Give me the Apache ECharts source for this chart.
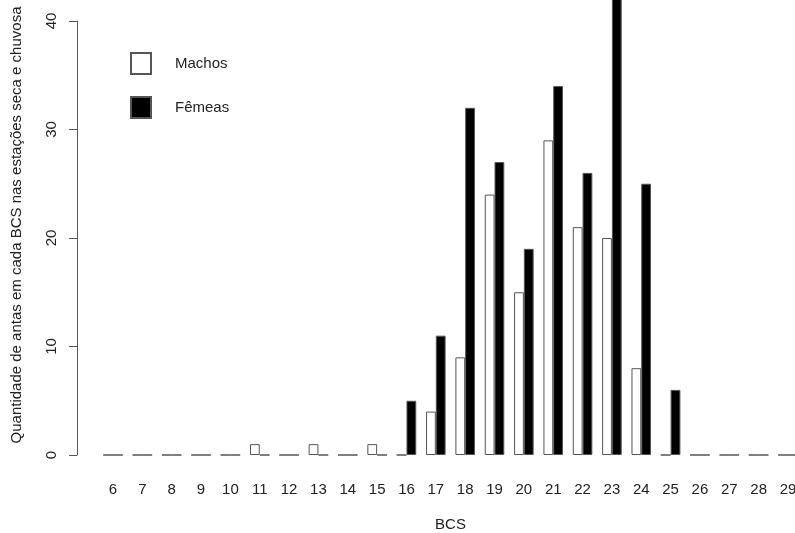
<!DOCTYPE html>
<html><head><meta charset="utf-8">
<script src="https://cdn.jsdelivr.net/npm/echarts@6/dist/echarts.min.js"></script>
<style>html,body{margin:0;padding:0;background:#fff}#c{width:795px;height:533px}</style>
</head><body><div id="c"></div>
<script>
const categories = ['6','7','8','9','10','11','12','13','14','15','16','17','18','19','20','21','22','23','24','25','26','27','28','29'];
const machos = [0,0,0,0,0,1,0,1,0,1,0,4,9,24,15,29,21,20,8,0,0,0,0,0];
const femeas = [0,0,0,0,0,0,0,0,0,0,5,11,32,27,19,34,26,43,25,6,0,0,0,0];
const yTicks = [0,10,20,30,40];
const font = 'Liberation Sans, Arial, sans-serif';
const chart = echarts.init(document.getElementById('c'), null, {renderer:'canvas'});
const bandW = (788-113)/23;
const barW = bandW/3;
const gridLeft = 113-bandW/2;
chart.setOption({
  animation:false,
  backgroundColor:'#fff',
  grid:{left:gridLeft, top:21, width:bandW*24, height:434, outerBoundsMode:'none', containLabel:false},
  legend:{
    orient:'vertical', left:130, top:52, padding:0, itemWidth:20, itemHeight:21, itemGap:21,
    icon:'rect',
    textStyle:{fontFamily:font, fontSize:15, color:'#222', padding:[0,0,0,19]},
    data:['Machos','Fêmeas']
  },
  xAxis:{
    type:'category', data:categories,
    axisLine:{show:false}, axisTick:{show:false},
    axisLabel:{fontFamily:font, fontSize:15, color:'#222', margin:27, interval:0},
    name:'BCS', nameLocation:'middle', nameGap:62,
    nameTextStyle:{fontFamily:font, fontSize:15, color:'#222'}
  },
  yAxis:{
    type:'value', min:0, max:40, interval:10, offset:gridLeft-77,
    axisLine:{show:true, lineStyle:{color:'#555', width:1}},
    axisTick:{show:true, length:8, lineStyle:{color:'#555'}},
    splitLine:{show:false},
    axisLabel:{fontFamily:font, fontSize:15, color:'#222', rotate:90, margin:18,
      formatter:v=> yTicks.includes(v)? String(v):''}
  },
  graphic:[{
    type:'text', x:17, y:225, rotation:Math.PI/2,
    style:{text:'Quantidade de antas em cada BCS nas estações seca e chuvosa',
      font:'15px '+font, fill:'#222', align:'center', verticalAlign:'middle'}
  }],
  series:[
    {name:'Machos', type:'bar', data:machos, barWidth:barW, barGap:'0%', clip:false,
     itemStyle:{color:'#fff', borderColor:'#555', borderWidth:1}},
    {name:'Fêmeas', type:'bar', data:femeas, barWidth:barW, barGap:'0%', clip:false,
     itemStyle:{color:'#000', borderColor:'#555', borderWidth:1}}
  ]
});
</script></body></html>
